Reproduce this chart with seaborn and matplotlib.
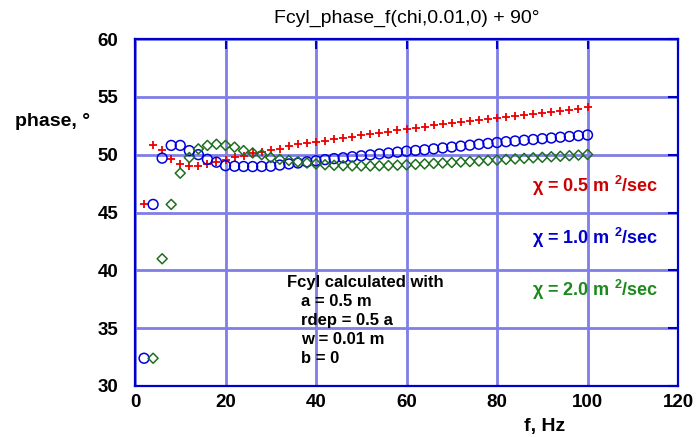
import numpy as np
import pandas as pd
import matplotlib
matplotlib.use("Agg")
import matplotlib.pyplot as plt
import seaborn as sns

# frequencies (Hz)
freq = list(range(2, 101, 2))
freq_green = list(range(4, 101, 2))

# phase (deg)
phase_05 = [45.7, 50.8, 50.4, 49.65, 49.2, 49.05, 49.05, 49.2, 49.4, 49.5,
            49.8, 49.9, 50.15, 50.2, 50.4, 50.5, 50.75, 50.9, 51.0, 51.1,
            51.22, 51.34, 51.45, 51.56, 51.67, 51.78, 51.9, 52.0, 52.12, 52.23,
            52.33, 52.43, 52.53, 52.62, 52.72, 52.81, 52.91, 53.0, 53.1, 53.19,
            53.28, 53.37, 53.46, 53.55, 53.64, 53.73, 53.81, 53.9, 53.99, 54.08]
phase_10 = [32.4, 45.7, 49.7, 50.8, 50.8, 50.35, 50.0, 49.6, 49.35, 49.05,
            49.0, 48.98, 48.97, 48.98, 49.0, 49.1, 49.2, 49.28, 49.38, 49.47,
            49.57, 49.66, 49.73, 49.82, 49.9, 49.98, 50.06, 50.14, 50.22, 50.3,
            50.36, 50.42, 50.5, 50.58, 50.66, 50.74, 50.82, 50.9, 50.97, 51.05,
            51.12, 51.18, 51.25, 51.31, 51.38, 51.44, 51.51, 51.57, 51.64, 51.7]
phase_20 = [32.4, 41.0, 45.7, 48.4, 49.75, 50.5, 50.8, 50.9, 50.8,
            50.65, 50.35, 50.15, 50.0, 49.75, 49.6, 49.5, 49.38, 49.28, 49.2,
            49.13, 49.08, 49.05, 49.03, 49.02, 49.02, 49.04, 49.06, 49.09, 49.12,
            49.16, 49.2, 49.24, 49.28, 49.32, 49.36, 49.4, 49.45, 49.5, 49.54,
            49.59, 49.63, 49.68, 49.73, 49.77, 49.82, 49.86, 49.91, 49.96, 50.02]

labels = ["\u03c7 = 0.5 m $^{2}$/sec", "\u03c7 = 1.0 m $^{2}$/sec", "\u03c7 = 2.0 m $^{2}$/sec"]
marker_colors = ["#ee0000", "#0000dd", "#1e6e1e"]
text_colors = ["#cc0000", "#0000cc", "#1a8a1a"]

sns.set_style("white")
plt.rcParams['font.family'] = ['Liberation Sans', 'DejaVu Sans']
plt.rcParams['text.color'] = 'black'
plt.rcParams['axes.labelcolor'] = 'black'
plt.rcParams['xtick.labelcolor'] = 'black'
plt.rcParams['ytick.labelcolor'] = 'black'
plt.rcParams['mathtext.fontset'] = 'custom'
plt.rcParams['mathtext.rm'] = 'Liberation Sans:bold'
plt.rcParams['mathtext.it'] = 'Liberation Sans:bold'
plt.rcParams['mathtext.bf'] = 'Liberation Sans:bold'

fig = plt.figure(figsize=(6.96, 4.37), dpi=100)
ax = fig.add_axes([135 / 696, 1 - 386 / 437, 543 / 696, 347 / 437])

sns.scatterplot(x=freq, y=phase_05, ax=ax, marker='+', color=marker_colors[0],
                s=40, linewidth=1.3, zorder=3)
sns.scatterplot(x=freq, y=phase_10, ax=ax, marker='o', facecolor='none',
                edgecolor=marker_colors[1], s=50, linewidth=1.1, zorder=3)
sns.scatterplot(x=freq_green, y=phase_20, ax=ax, marker='D', facecolor='none',
                edgecolor=marker_colors[2], s=26, linewidth=1.1, zorder=3)

ax.set_xlim(0, 120)
ax.set_ylim(30, 60)
ax.set_xticks(range(0, 121, 20))
ax.set_yticks(range(30, 61, 5))
ax.grid(True, color="#7f7fe6", linewidth=2.0, zorder=0)
ax.set_axisbelow(True)
for sp in ax.spines.values():
    sp.set_color("#0000cc")
    sp.set_linewidth(1.6)
ax.tick_params(direction='in', length=7, width=1.5, color="#0000cc",
               labelcolor='black', top=True, right=True, labelsize=13.5)
ax.tick_params(axis='y', pad=12)
ax.tick_params(axis='x', pad=6)
for lab in ax.get_xticklabels() + ax.get_yticklabels():
    lab.set_fontweight('bold')

ax.set_title("Fcyl_phase_f(chi,0.01,0) + 90\u00b0", fontsize=14, pad=12)
fig.text(15 / 696, 1 - 122 / 437, "phase, \u00b0", fontsize=14,
         fontweight='bold', va='center', ha='left')
fig.text(545 / 696, 1 - 427 / 437, "f, Hz", fontsize=14,
         fontweight='bold', va='center', ha='center')

for lab, col, yy in zip(labels, text_colors, [0.576, 0.4265, 0.277]):
    ax.text(0.963, yy, lab, transform=ax.transAxes, color=col, fontsize=13,
            fontweight='bold', ha='right', va='center')

ax.text(0.28, 0.297, "Fcyl calculated with", transform=ax.transAxes,
        fontsize=12, fontweight='bold', ha='left', va='center')
ax.text(0.306, 0.265, "a = 0.5 m\nrdep = 0.5 a\nw = 0.01 m\nb = 0",
        transform=ax.transAxes, fontsize=12, fontweight='bold', ha='left',
        va='top', linespacing=1.32)

fig.savefig("out.png", dpi=100)
